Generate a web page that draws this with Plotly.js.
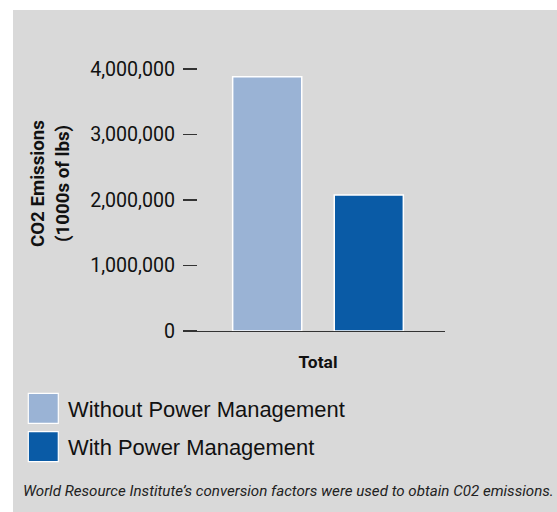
<!DOCTYPE html>
<html>
<head>
<meta charset="utf-8">
<script src="https://cdn.plot.ly/plotly-3.0.1.min.js"></script>
<style>
  html, body { margin: 0; padding: 0; background: #ffffff; width: 557px; height: 512px; overflow: hidden; }
  #chart { position: absolute; left: 13px; top: 10px; width: 544px; height: 502px; }
</style>
</head>
<body>
<div id="chart"></div>
<script>
// ---- data ----
const categories = ["Total"];
const seriesNames = ["Without Power Management", "With Power Management"];
const withoutPM = [3880000];
const withPM = [2075000];
const yTickValues = [0, 1000000, 2000000, 3000000, 4000000];
const yTickLabels = ["0", "1,000,000", "2,000,000", "3,000,000", "4,000,000"];
const yTitleLines = ["CO2 Emissions", "(1000s of lbs)"];
const footnote = "World Resource Institute\u2019s conversion factors were used to obtain C02 emissions.";

// ---- style ----
const colors = ["#9ab3d5", "#0a5ba6"];
const fam = "Roboto";
const regular = "Liberation Sans";

const ctx = document.createElement("canvas").getContext("2d");
function w(font, s) { ctx.font = font; return ctx.measureText(s).width; }
// font size that makes a text span the width measured in the reference
function fit(text, target, prefix, family) {
  return target / w((prefix || "") + " 100px '" + (family || fam) + "'", text) * 100;
}
const tickSize = fit("4,000,000", 85, "");
const titleSize = fit(yTitleLines[0], 127, "bold");
const totalSize = fit("Total", 39, "bold");
const footSize = fit(footnote, 531, "italic");
const legendSize = fit(seriesNames[0], 277, "", regular);

// layout geometry (div is offset 13,10 inside the page)
const OX = 13, OY = 10, W = 544, H = 502;
const mL = 178, mR = 112, mT = 59, mB = 181;
const plotW = W - mL - mR, plotH = H - mT - mB;
const px = x => (x - OX - mL) / plotW;
const py = y => (H - mB - (y - OY)) / plotH;

const traces = [
  { type: "bar", name: seriesNames[0], x: categories, y: withoutPM,
    marker: { color: colors[0], line: { color: "#ffffff", width: 1.5 } }, hoverinfo: "y" },
  { type: "bar", name: seriesNames[1], x: categories, y: withPM,
    marker: { color: colors[1], line: { color: "#ffffff", width: 1.5 } }, hoverinfo: "y" }
];

const shapes = [];
const annotations = [];
// legend
const legendTop = [393.3, 431.7];
seriesNames.forEach((n, i) => {
  shapes.push({ type: "rect", xref: "paper", yref: "paper",
    x0: px(28.3), x1: px(58.3), y0: py(legendTop[i]), y1: py(legendTop[i] + 30),
    fillcolor: colors[i], line: { color: "#ffffff", width: 1.2 } });
  annotations.push({ xref: "paper", yref: "paper", x: px(66), y: py(legendTop[i] + 16),
    xanchor: "left", yanchor: "middle", showarrow: false, text: n,
    font: { family: regular, size: legendSize, color: "#111111" } });
});
// y-axis title: two rotated lines
const titleX = [37.5, 62.5];
yTitleLines.forEach((t, i) => {
  annotations.push({ xref: "paper", yref: "paper", x: px(titleX[i]), y: py(183.5),
    xanchor: "center", yanchor: "middle", showarrow: false, textangle: -90,
    text: "<b>" + t + "</b>",
    font: { family: fam, size: titleSize, color: "#111111" } });
});
// footnote
annotations.push({ xref: "paper", yref: "paper", x: px(21), y: py(490.5),
  xanchor: "left", yanchor: "middle", showarrow: false,
  text: "<i>" + footnote + "</i>",
  font: { family: fam, size: footSize, color: "#222222" } });

const layout = {
  width: W, height: H,
  margin: { l: mL, r: mR, t: mT, b: mB, pad: 0 },
  paper_bgcolor: "#d9d9d9", plot_bgcolor: "rgba(0,0,0,0)",
  showlegend: false,
  barmode: "group", bargap: 0.2, bargroupgap: 0.32,
  xaxis: {
    type: "category", domain: [0, 1], showgrid: false, zeroline: false,
    showline: true, linecolor: "#333333", linewidth: 1.2, ticks: "",
    tickfont: { family: fam, size: totalSize, color: "#111111", weight: "bold" },
    ticklabelstandoff: 15, fixedrange: true
  },
  yaxis: {
    range: [0, 4000000], anchor: "free", position: px(197),
    showgrid: false, zeroline: false, showline: false,
    ticks: "outside", ticklen: 14, tickwidth: 1.5, tickcolor: "#333333",
    tickvals: yTickValues, ticktext: yTickLabels,
    tickfont: { family: fam, size: tickSize, color: "#111111" },
    ticklabelstandoff: 4,
    fixedrange: true
  },
  shapes: shapes,
  annotations: annotations
};

Plotly.newPlot("chart", traces, layout, { displayModeBar: false, staticPlot: true });
</script>
</body>
</html>
